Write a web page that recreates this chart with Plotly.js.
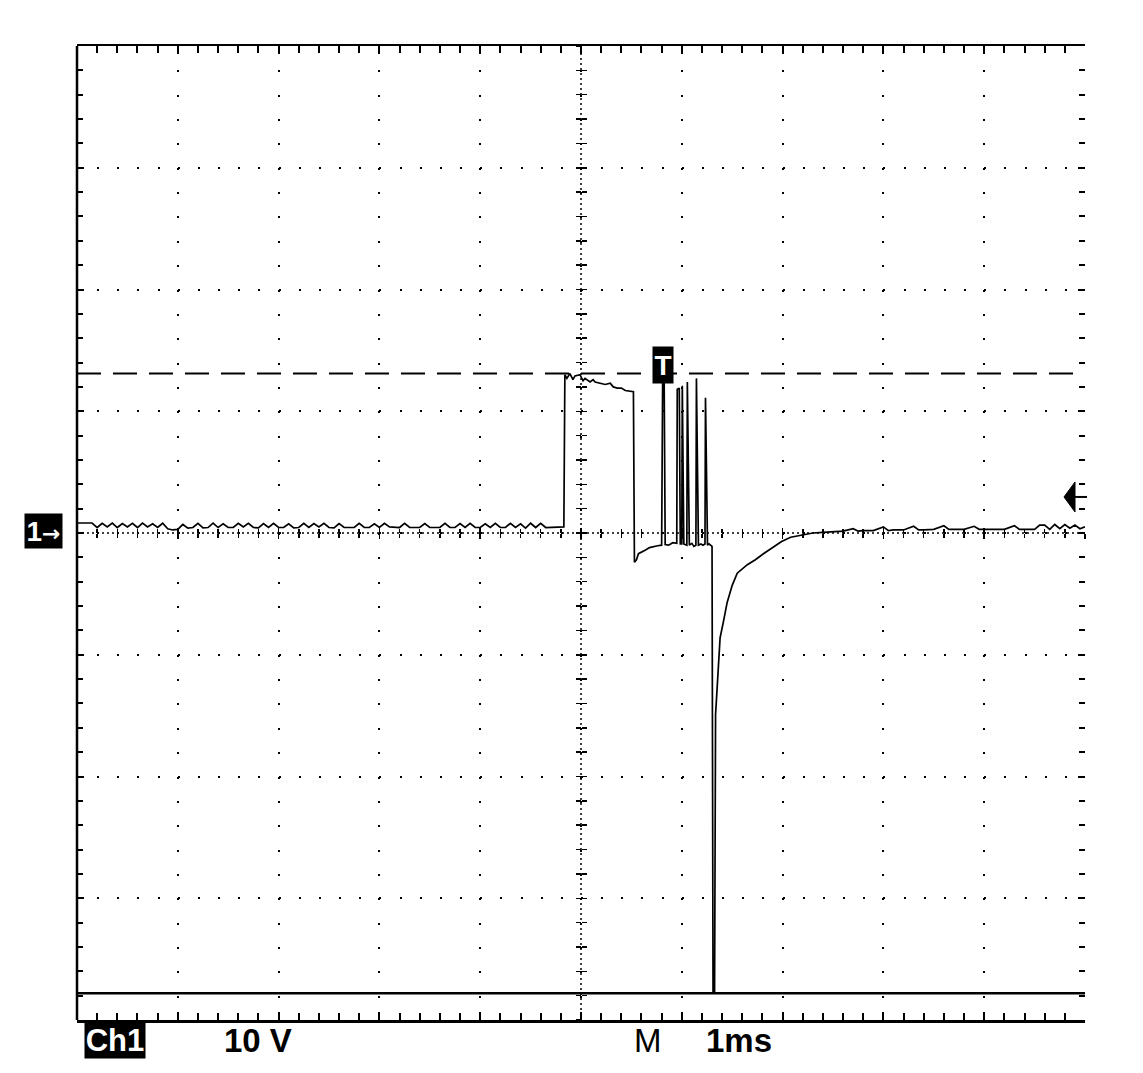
<!DOCTYPE html>
<html><head><meta charset="utf-8">
<script src="https://cdn.plot.ly/plotly-3.0.1.min.js"></script>
<style>html,body{margin:0;padding:0;background:#fff}#chart{width:1143px;height:1073px}</style>
</head><body><div id="chart"></div>
<script>
// ---- Data (time in ms, voltage in V) ----
const baseLeftT = [
 -5.00,-4.95,-4.90,-4.85,-4.80,-4.75,-4.70,-4.65,-4.60,-4.55,
 -4.50,-4.45,-4.40,-4.35,-4.30,-4.25,-4.20,-4.15,-4.10,-4.05,
 -4.00,-3.95,-3.90,-3.85,-3.80,-3.75,-3.70,-3.65,-3.60,-3.55,
 -3.50,-3.45,-3.40,-3.35,-3.30,-3.25,-3.20,-3.15,-3.10,-3.05,
 -3.00,-2.95,-2.90,-2.85,-2.80,-2.75,-2.70,-2.65,-2.60,-2.55,
 -2.50,-2.45,-2.40,-2.35,-2.30,-2.25,-2.20,-2.15,-2.10,-2.05,
 -2.00,-1.95,-1.90,-1.85,-1.80,-1.75,-1.70,-1.65,-1.60,-1.55,
 -1.50,-1.45,-1.40,-1.35,-1.30,-1.25,-1.20,-1.15,-1.10,-1.05,
 -1.00,-0.95,-0.90,-0.85,-0.80,-0.75,-0.70,-0.65,-0.60,-0.55,
 -0.50,-0.45,-0.40,-0.35,-0.30,-0.25,-0.20,-0.17];
const baseLeftV = [
 0.82,0.82,0.82,0.82,0.45,0.80,0.50,0.82,0.45,0.78,
 0.50,0.80,0.45,0.82,0.50,0.75,0.45,0.80,0.35,0.25,
 0.30,0.70,0.40,0.45,0.80,0.42,0.45,0.82,0.45,0.75,
 0.45,0.45,0.80,0.50,0.80,0.45,0.42,0.78,0.45,0.80,
 0.45,0.45,0.75,0.42,0.45,0.80,0.45,0.78,0.50,0.80,
 0.45,0.42,0.78,0.45,0.45,0.45,0.80,0.45,0.45,0.75,
 0.45,0.80,0.50,0.45,0.45,0.80,0.45,0.45,0.45,0.78,
 0.45,0.45,0.45,0.80,0.45,0.45,0.78,0.45,0.80,0.45,
 0.45,0.75,0.45,0.80,0.45,0.45,0.80,0.45,0.75,0.40,
 0.80,0.45,0.80,0.45,0.45,0.45,0.50,0.50];

const pulseT = [-0.16,-0.14,-0.11,-0.08,-0.06,-0.01,0.02,0.04,0.09,0.12,
 0.14,0.19,0.24,0.29,0.32,0.36,0.40,0.44,0.49,0.52];
const pulseV = [13.0,12.7,13.1,12.6,12.9,13.0,12.5,12.7,12.4,12.6,
 12.4,12.3,12.2,12.3,12.0,11.9,11.9,11.7,11.6,11.6];

const burstT = [0.53,0.55,0.57,0.60,0.64,0.68,0.72,0.76,0.80,0.81,
 0.825,0.835,0.87,0.91,0.95,0.955,0.975,0.985,1.00,1.005,
 1.02,1.05,1.055,1.075,1.10,1.12,1.14,1.145,1.165,1.19,
 1.21,1.23,1.235,1.255,1.27,1.30];
const burstV = [-2.4,-2.2,-1.7,-1.6,-1.4,-1.2,-1.1,-1.05,-1.0,12.6,
 12.6,-0.95,-1.0,-0.8,-0.85,11.8,11.9,-0.9,-0.9,12.1,
 -0.9,-1.0,12.4,-1.0,-0.85,-1.1,-1.0,12.7,-1.0,-0.9,
 -1.0,-0.9,11.1,-1.0,-0.9,-1.1];

const kickT = [1.31,1.325,1.335,1.36,1.38,1.41,1.45,1.50,1.55,1.65,
 1.73,1.81,1.90,1.99,2.08,2.19];
const kickV = [-37.8,-37.8,-14.9,-10.7,-8.6,-7.4,-5.7,-4.3,-3.3,-2.6,
 -2.2,-1.7,-1.2,-0.7,-0.35,-0.15];

const baseRightT = [2.30,2.40,2.50,2.60,2.70,2.75,2.80,2.90,3.00,3.05,
 3.10,3.20,3.30,3.35,3.40,3.50,3.60,3.65,3.70,3.80,
 3.90,3.95,4.00,4.10,4.20,4.30,4.35,4.40,4.50,4.55,
 4.60,4.65,4.70,4.75,4.80,4.85,4.90,4.95,5.00];
const baseRightV = [0.00,0.05,0.10,0.15,0.35,0.15,0.20,0.20,0.50,0.20,
 0.25,0.25,0.55,0.25,0.25,0.30,0.60,0.30,0.30,0.30,
 0.55,0.30,0.30,0.30,0.30,0.60,0.30,0.30,0.30,0.65,
 0.65,0.30,0.70,0.35,0.70,0.40,0.65,0.35,0.50];

const triggerLevelV = 13.1;   // dashed trigger level
const clipLevelV = -37.8;     // bottom clip line
const triggerTimeMs = 0.81;   // "T" marker position
const triggerMarkV = 13.8;
const arrowLevelV = 2.96;     // right-side level arrow
const xRange = [-5, 5];       // 1 ms/div, 10 div
const yRange = [-40, 40];     // 10 V/div, 8 div
const labels = {ch: 'Ch1', scale: '10 V', m: 'M', time: '1ms', gnd: '1', gndArrow: '\u2192', trig: 'T'};

// ---- Build ----
const T = [].concat(baseLeftT, pulseT, burstT, kickT, baseRightT);
const V = [].concat(baseLeftV, pulseV, burstV, kickV, baseRightV);

const FONT = '"Liberation Sans", Arial, sans-serif';
const K = '#000';

const traces = [
  {type:'scatter', mode:'lines', x:T, y:V, line:{color:K, width:1.7}, hoverinfo:'skip', showlegend:false},
  {type:'scatter', mode:'lines', x:[], y:[], xaxis:'x2', yaxis:'y', showlegend:false, hoverinfo:'skip'},
  {type:'scatter', mode:'lines', x:[], y:[], xaxis:'x3', yaxis:'y', showlegend:false, hoverinfo:'skip'},
  {type:'scatter', mode:'lines', x:[], y:[], xaxis:'x', yaxis:'y3', showlegend:false, hoverinfo:'skip'},
  {type:'scatter', mode:'lines', x:[], y:[], xaxis:'x', yaxis:'y4', showlegend:false, hoverinfo:'skip'}
];

const centerTickX = (side) => ({
  overlaying:'x', anchor:'free', position:0.5, range:xRange, side:'bottom',
  showgrid:false, zeroline:false, showline:false, showticklabels:false,
  ticks:side, ticklen:5, tickwidth:1.5, tickcolor:K, dtick:1, tick0:0,
  minor:{dtick:0.2, tick0:0, ticks:side, ticklen:4, tickwidth:1.5, tickcolor:K, showgrid:false}
});
const centerTickY = (side) => ({
  overlaying:'y', anchor:'free', position:0.5, range:yRange, side:'left',
  showgrid:false, zeroline:false, showline:false, showticklabels:false,
  ticks:side, ticklen:5, tickwidth:1.5, tickcolor:K, dtick:10, tick0:0,
  minor:{dtick:2, tick0:0, ticks:side, ticklen:5, tickwidth:1.5, tickcolor:K, showgrid:false}
});

const layout = {
  width:1143, height:1073,
  margin:{l:77, r:58, t:46, b:53},
  paper_bgcolor:'#fff', plot_bgcolor:'#fff',
  showlegend:false,
  font:{family:FONT, color:K},
  xaxis:{
    range:xRange, dtick:1, tick0:0, showticklabels:false,
    showgrid:true, gridcolor:K, gridwidth:2, griddash:'2px,22.35px',
    zeroline:false, showline:true, linecolor:K, linewidth:2.5, mirror:'ticks',
    ticks:'inside', ticklen:8, tickwidth:2, tickcolor:K,
    minor:{dtick:0.2, tick0:0, ticks:'inside', ticklen:7, tickwidth:2, tickcolor:K, showgrid:false}
  },
  yaxis:{
    range:yRange, dtick:10, tick0:0, showticklabels:false,
    showgrid:true, gridcolor:K, gridwidth:2, griddash:'2px,18.16px',
    zeroline:false, showline:false, mirror:'ticks',
    ticks:'inside', ticklen:7, tickwidth:2, tickcolor:K,
    minor:{dtick:2, tick0:0, ticks:'inside', ticklen:6, tickwidth:2, tickcolor:K, showgrid:false}
  },
  xaxis2:centerTickX('outside'),
  xaxis3:centerTickX('inside'),
  yaxis3:centerTickY('outside'),
  yaxis4:centerTickY('inside'),
  shapes:[
    {type:'line', xref:'paper', yref:'paper', x0:0, x1:0, y0:0, y1:1, line:{color:K, width:2.5}},
    {type:'line', xref:'x', yref:'paper', x0:0, x1:0, y0:0, y1:1, line:{color:K, width:1.5, dash:'2px,3px'}},
    {type:'line', xref:'paper', yref:'y', x0:0, x1:1, y0:0, y1:0, line:{color:K, width:1.5, dash:'2px,3px'}},
    {type:'line', xref:'paper', yref:'y', x0:0, x1:1, y0:triggerLevelV, y1:triggerLevelV, line:{color:K, width:2, dash:'24px,12px'}},
    {type:'line', xref:'paper', yref:'y', x0:0, x1:1, y0:clipLevelV, y1:clipLevelV, line:{color:K, width:2.5}},
    {type:'path', xref:'paper', yref:'y', xsizemode:'pixel', ysizemode:'pixel', xanchor:1, yanchor:arrowLevelV,
     path:'M-21,0 L-10,15 L-10,-15 Z', fillcolor:K, line:{color:K, width:1}},
    {type:'path', xref:'paper', yref:'y', xsizemode:'pixel', ysizemode:'pixel', xanchor:1, yanchor:arrowLevelV,
     path:'M-10,0 L2,0', line:{color:K, width:2}}
  ],
  annotations:[
    {text:labels.ch, xref:'paper', yref:'paper', x:(115-77)/1008, y:0, yshift:-20, xanchor:'center', yanchor:'middle',
     showarrow:false, bgcolor:K, width:60, height:35, borderpad:0, font:{family:FONT, size:31, color:'#fff', weight:'bold'}},
    {text:labels.scale, xref:'paper', yref:'paper', x:(258-77)/1008, y:0, yshift:-20, xanchor:'center', yanchor:'middle',
     showarrow:false, font:{family:FONT, size:33, color:K, weight:'bold'}},
    {text:labels.m, xref:'paper', yref:'paper', x:(648-77)/1008, y:0, yshift:-20, xanchor:'center', yanchor:'middle',
     showarrow:false, font:{family:FONT, size:33, color:K}},
    {text:labels.time, xref:'paper', yref:'paper', x:(739-77)/1008, y:0, yshift:-20, xanchor:'center', yanchor:'middle',
     showarrow:false, font:{family:FONT, size:33, color:K, weight:'bold'}},
    {text:labels.gnd + '<span style="font-family:\'DejaVu Sans\';font-size:22px">' + labels.gndArrow + '</span>',
     xref:'paper', yref:'y', x:(43.5-77)/1008, y:0, yshift:2, xanchor:'center', yanchor:'middle',
     showarrow:false, bgcolor:K, width:37, height:34, borderpad:0, font:{family:FONT, size:28, color:'#fff', weight:'bold'}},
    {text:labels.trig, xref:'x', yref:'y', x:triggerTimeMs, y:triggerMarkV, xanchor:'center', yanchor:'middle',
     showarrow:false, bgcolor:K, width:20, height:36, borderpad:0, font:{family:FONT, size:28, color:'#fff', weight:'bold'}}
  ]
};

Plotly.newPlot('chart', traces, layout, {staticPlot:true, displayModeBar:false});
</script>
</body></html>
